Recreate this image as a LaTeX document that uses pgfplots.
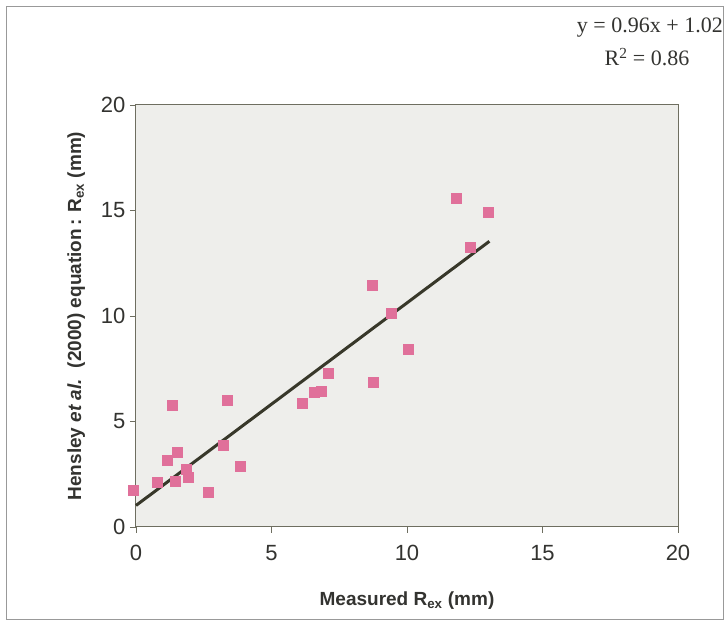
\documentclass[border=0pt]{standalone}
\usepackage{fontspec}
\setmainfont{Liberation Sans}
\newfontfamily\timesfont{Liberation Serif}
\usepackage{pgfplots}
\pgfplotsset{compat=1.18}
\definecolor{ptpink}{HTML}{E0709A}
\definecolor{trend}{HTML}{38382A}
\definecolor{plotbg}{HTML}{EEEEEB}
\definecolor{axcol}{HTML}{6E6E60}
\definecolor{txt}{HTML}{333330}
\begin{document}
\begin{tikzpicture}[x=1pt,y=1pt]
\useasboundingbox (0,0) rectangle (724,623);
\draw[color=gray!80, line width=1pt] (6,3) rectangle (723.5,616);
\begin{axis}[
  at={(136pt,96pt)}, anchor=south west,
  scale only axis, width=542pt, height=422pt,
  xmin=0, xmax=20, ymin=0, ymax=20,
  xtick={0,5,10,15,20}, ytick={0,5,10,15,20},
  xtick pos=left, ytick pos=left,
  tick align=outside, major tick length=6pt,
  tick style={axcol, line width=0.8pt},
  axis line style={axcol, line width=1pt},
  axis background/.style={fill=plotbg},
  /pgf/number format/assume math mode=true,
  tick label style={font=\fontsize{22}{26}\selectfont, text=txt},
  xticklabel style={yshift=-9pt},
  yticklabel style={xshift=-1pt},
  xlabel={\bfseries Measured R\textsubscript{ex} (mm)},
  ylabel={\bfseries Hensley \textit{et al.}\ \ (2000) equation\,: R\textsubscript{ex} (mm)},
  label style={font=\fontsize{19}{22}\selectfont, text=txt},
  xlabel style={yshift=-24pt},
  ylabel style={yshift=9pt},
  clip=false,
]
\addplot[only marks, mark=square*, mark size=5pt, ptpink, mark options={draw=ptpink, fill=ptpink}] coordinates {
(-0.1,1.74) (0.79,2.1) (1.44,2.18) (1.93,2.38) (1.87,2.73) (1.16,3.18) (1.52,3.54)
(1.35,5.78) (2.67,1.63) (3.22,3.89) (3.86,2.86) (3.35,5.99) (6.15,5.89) (6.58,6.37)
(6.84,6.45) (7.1,7.28) (8.76,6.84) (10.06,8.42) (11.81,15.6) (12.99,14.94) (12.32,13.26)
(9.4,10.13) (8.73,11.44)
};
\addplot[trend, line width=3pt] coordinates {(0,1.02) (13.04,13.54)};
\end{axis}
\node[anchor=east, font=\timesfont\fontsize{22}{26}\selectfont, text=txt, inner sep=1pt] at (724,595) {y = 0.96x + 1.02};
\node[font=\timesfont\fontsize{22}{26}\selectfont, text=txt] at (647,566) {R\textsuperscript{2} = 0.86};
\end{tikzpicture}
\end{document}
